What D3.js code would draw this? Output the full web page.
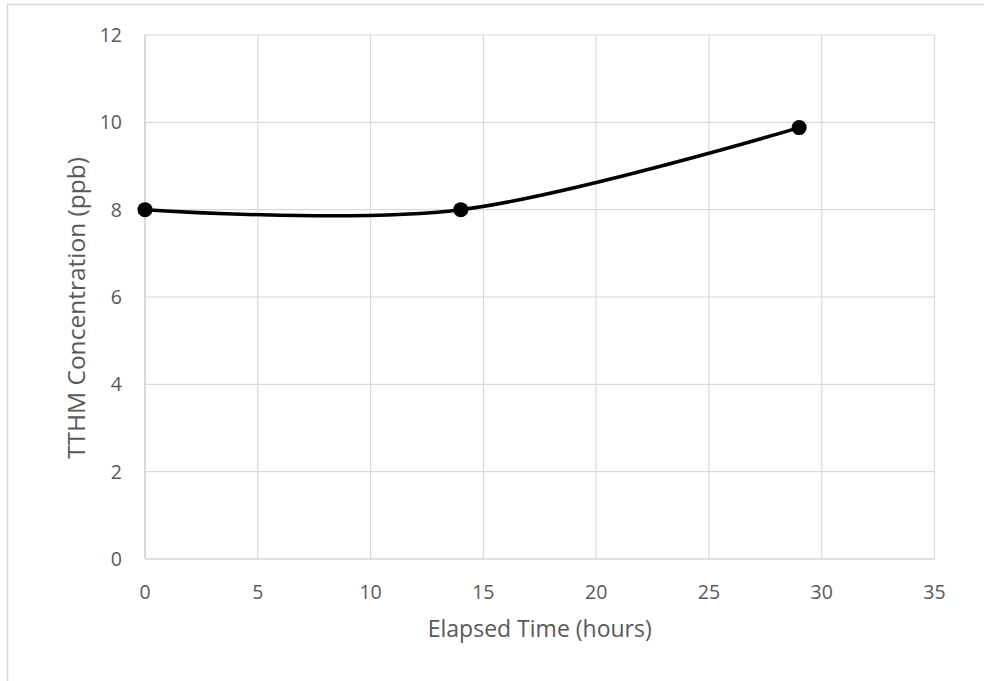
<!DOCTYPE html>
<html><head><meta charset="utf-8">
<script src="https://cdn.jsdelivr.net/npm/d3@7"></script>
<style>body{margin:0;background:#fff;}svg{display:block;font-family:"Open Sans",sans-serif;}</style>
</head><body>
<svg id="c" width="984" height="681"></svg>
<script>
const hours = [0, 14, 29];
const tthm = [8, 8, 9.88];
const xTicks = [0, 5, 10, 15, 20, 25, 30, 35];
const yTicks = [0, 2, 4, 6, 8, 10, 12];
const xTitle = "Elapsed Time (hours)";
const yTitle = "TTHM Concentration (ppb)";

const svg = d3.select("#c");
const L = 145, R = 934.5, T = 35, B = 559;
const x = d3.scaleLinear().domain([0, 35]).range([L, R]);
const y = d3.scaleLinear().domain([0, 12]).range([B, T]);

// chart frame
svg.append("path").attr("d", `M7.5,681 V4.5 H984`).attr("fill","none").attr("stroke","#d9d9d9").attr("stroke-width",1.5);

// gridlines
svg.append("g").selectAll("line").data(xTicks.slice(1)).join("line")
  .attr("x1", d=>x(d)).attr("x2", d=>x(d)).attr("y1", T).attr("y2", B)
  .attr("stroke", "#d9d9d9").attr("stroke-width", 1.2);
svg.append("g").selectAll("line").data(yTicks.slice(1)).join("line")
  .attr("x1", L).attr("x2", R).attr("y1", d=>y(d)).attr("y2", d=>y(d))
  .attr("stroke", "#d9d9d9").attr("stroke-width", 1.2);
// axis lines
svg.append("line").attr("x1",L).attr("x2",L).attr("y1",T).attr("y2",B).attr("stroke","#bfbfbf").attr("stroke-width",1.2);
svg.append("line").attr("x1",L).attr("x2",R).attr("y1",B).attr("y2",B).attr("stroke","#bfbfbf").attr("stroke-width",1.2);

// tick labels
svg.append("g").selectAll("text").data(xTicks).join("text")
  .attr("x", d=>x(d)).attr("y", 599).attr("text-anchor","middle")
  .attr("fill","#595959").attr("font-size",19.5).text(d=>d);
svg.append("g").selectAll("text").data(yTicks).join("text")
  .attr("x", 122).attr("y", d=>y(d)).attr("dy","0.36em").attr("text-anchor","end")
  .attr("fill","#595959").attr("font-size",19.5).text(d=>d);

// titles
svg.append("text").attr("x", (L+R)/2).attr("y", 637).attr("text-anchor","middle")
  .attr("fill","#595959").attr("font-size",23).text(xTitle);
svg.append("text").attr("transform", `translate(85,308) rotate(-90)`).attr("text-anchor","middle")
  .attr("fill","#595959").attr("font-size",24.5).text(yTitle);

// series
const pts = hours.map((h,i)=>[h, tthm[i]]);
const line = d3.line().x(d=>x(d[0])).y(d=>y(d[1])).curve(d3.curveCardinal.tension(0));
svg.append("path").attr("d", line(pts)).attr("fill","none").attr("stroke","#000").attr("stroke-width",3.5);
svg.append("g").selectAll("circle").data(pts).join("circle")
  .attr("cx", d=>x(d[0])).attr("cy", d=>y(d[1])).attr("r", 7.5).attr("fill","#000");
</script>
</body></html>
